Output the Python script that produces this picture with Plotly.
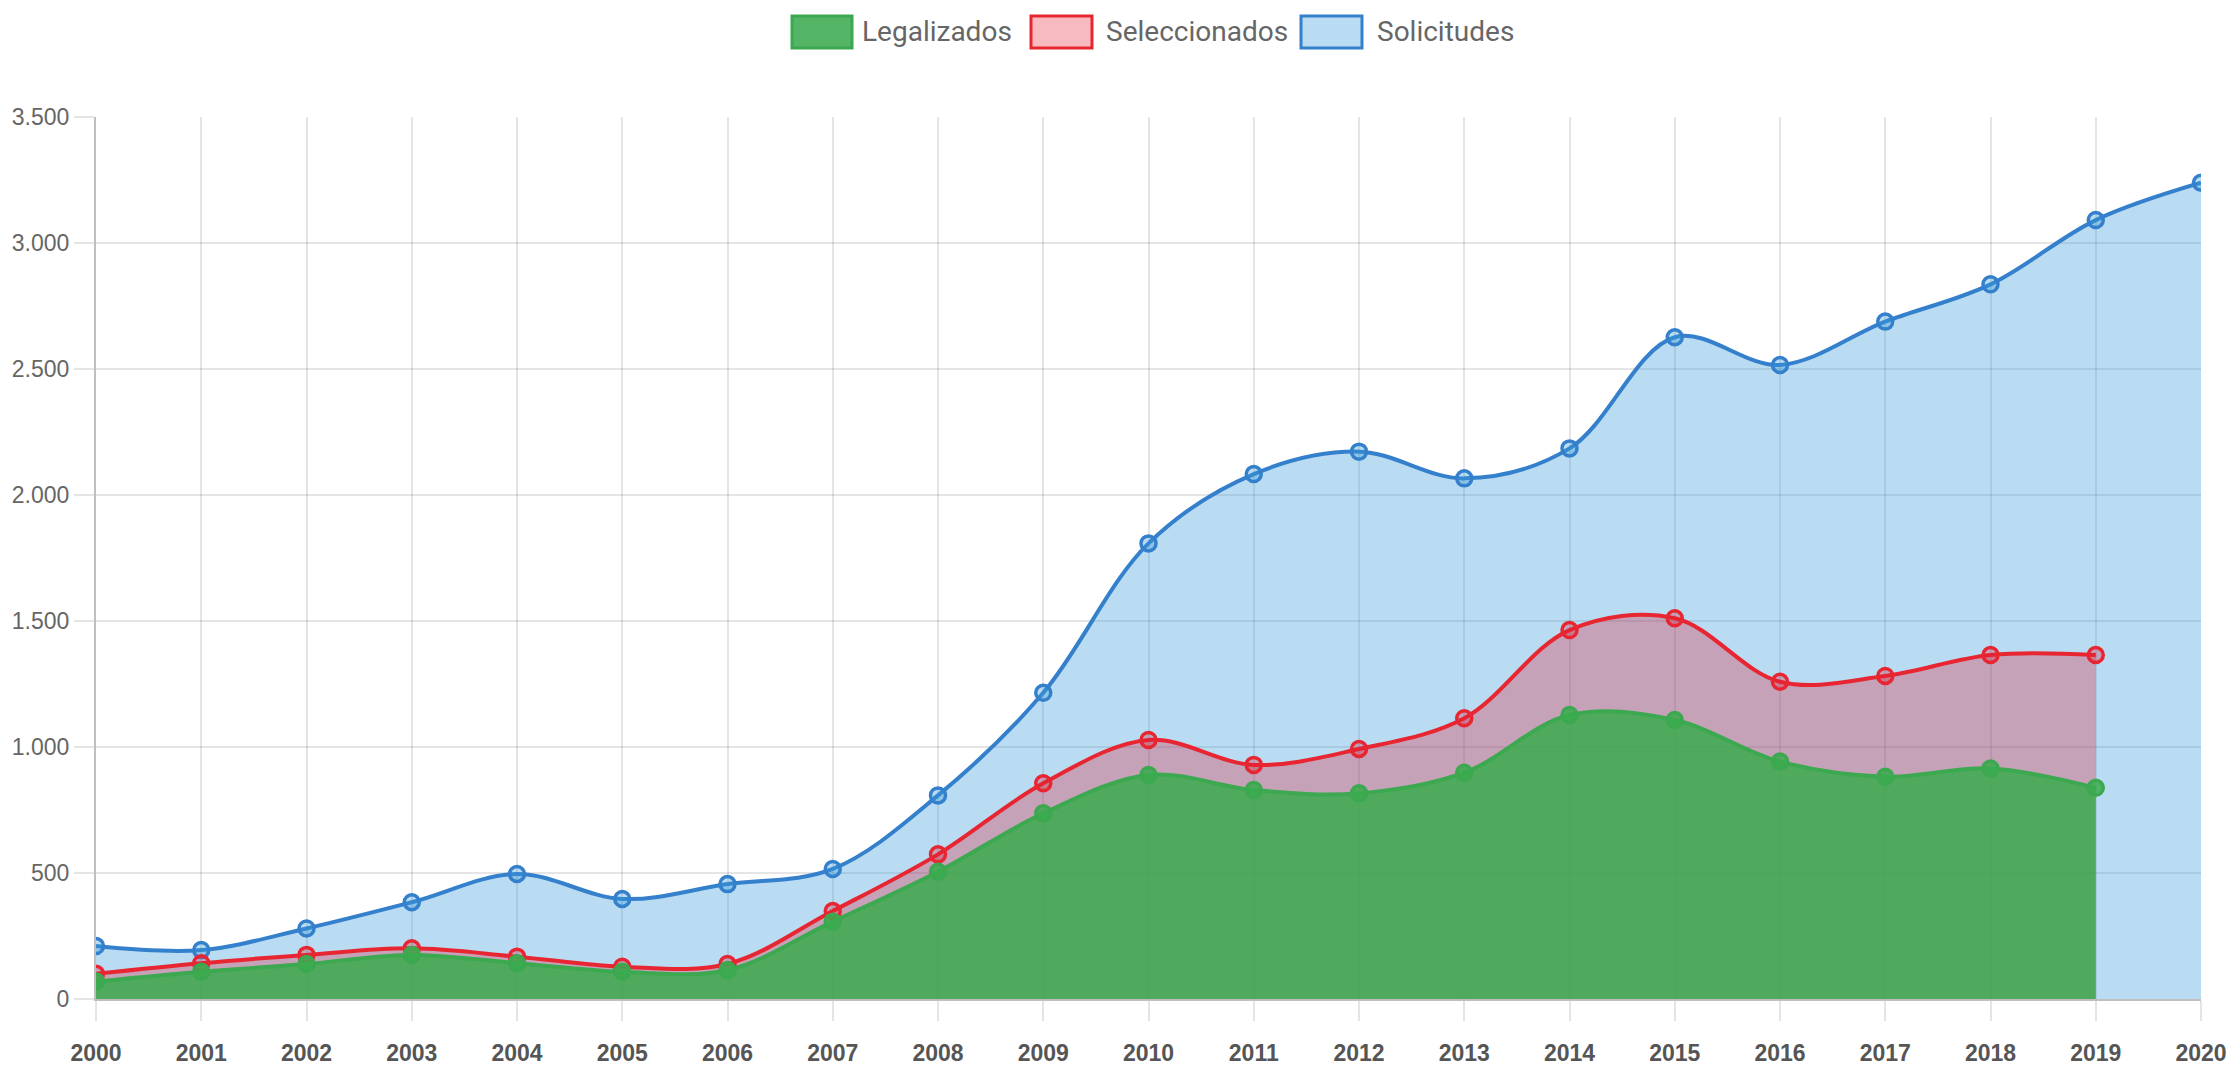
import plotly.graph_objects as go

years = list(range(2000, 2021))
solicitudes = [210, 194, 280, 384, 496, 397, 456, 516, 808, 1215, 1808, 2083, 2172, 2066, 2185, 2626, 2516, 2688, 2836, 3091, 3239]
seleccionados = [100, 142, 175, 201, 168, 128, 139, 349, 574, 856, 1028, 929, 992, 1114, 1464, 1511, 1259, 1282, 1365, 1365]
legalizados = [69, 108, 139, 175, 142, 108, 115, 307, 505, 737, 889, 829, 816, 898, 1127, 1107, 942, 882, 915, 838]

series_names = ["Legalizados", "Seleccionados", "Solicitudes"]
line_colors = ["rgb(60,168,80)", "rgb(232,38,50)", "rgb(52,128,204)"]
fill_colors = ["rgba(57,171,78,0.85)", "rgba(222,30,49,0.3)", "rgba(58,155,218,0.35)"]
legend_fill = ["rgb(84,181,103)", "rgb(246,186,192)", "rgb(186,220,242)"]

W, H = 2234, 1068
ML, MT = 96, 117
MR = W - 2201
MB = H - 999
PW, PH = W - ML - MR, H - MT - MB

fig = go.Figure()
data = [legalizados, seleccionados, solicitudes]
for i in [2, 1, 0]:
    ys = data[i]
    fig.add_trace(go.Scatter(
        x=years[:len(ys)], y=ys, name=series_names[i],
        mode="lines+markers",
        line=dict(color=line_colors[i], width=4, shape="spline", smoothing=1.0),
        marker=dict(symbol="circle", size=15, color=fill_colors[i],
                    line=dict(color=line_colors[i], width=3.5)),
        fill="tozeroy", fillcolor=fill_colors[i],
        showlegend=False,
    ))

def px_x(px):
    return (px - ML) / PW

def px_y(py):
    return (H - MB - py) / PH

boxes = [(792, 852), (1031, 1092), (1301, 1362)]
texts_x = [860, 1104, 1375]
for i in range(3):
    x0, x1 = boxes[i]
    fig.add_shape(type="rect", xref="paper", yref="paper",
                  x0=px_x(x0), x1=px_x(x1), y0=px_y(48), y1=px_y(16),
                  fillcolor=legend_fill[i], line=dict(color=line_colors[i], width=3))
    fig.add_annotation(xref="paper", yref="paper", x=px_x(texts_x[i]), y=px_y(32),
                       xanchor="left", yanchor="middle", showarrow=False,
                       text=series_names[i],
                       font=dict(family="Roboto", size=28, color="#666666"))

fig.update_layout(
    width=W, height=H,
    margin=dict(l=ML, r=MR, t=MT, b=MB),
    paper_bgcolor="white", plot_bgcolor="white",
    separators=",.",
    showlegend=False,
    xaxis=dict(range=[2000, 2020], dtick=1, tick0=2000, showgrid=True, automargin=False,
               gridcolor="rgba(0,0,0,0.1)", gridwidth=1.5, zeroline=False,
               ticks="outside", ticklen=20, tickcolor="rgba(0,0,0,0.1)", tickwidth=1.5,
               ticklabelstandoff=12,
               tickfont=dict(family="Liberation Sans, Arial", size=23, color="#555555", weight="bold"),
               showline=True, linecolor="rgba(0,0,0,0.25)", linewidth=2),
    yaxis=dict(range=[0, 3500], dtick=500, tick0=0, tickformat=",d", showgrid=True, automargin=False,
               gridcolor="rgba(0,0,0,0.1)", gridwidth=1.5, zeroline=False,
               ticks="outside", ticklen=20, tickcolor="rgba(0,0,0,0.1)", tickwidth=1.5,
               tickfont=dict(family="Liberation Sans, Arial", size=23, color="#666666"),
               showline=True, linecolor="rgba(0,0,0,0.25)", linewidth=2),
)

fig.write_html("out.html",
               config={"displayModeBar": False},
               post_script="document.body.style.margin='0';document.body.style.overflow='hidden';")
